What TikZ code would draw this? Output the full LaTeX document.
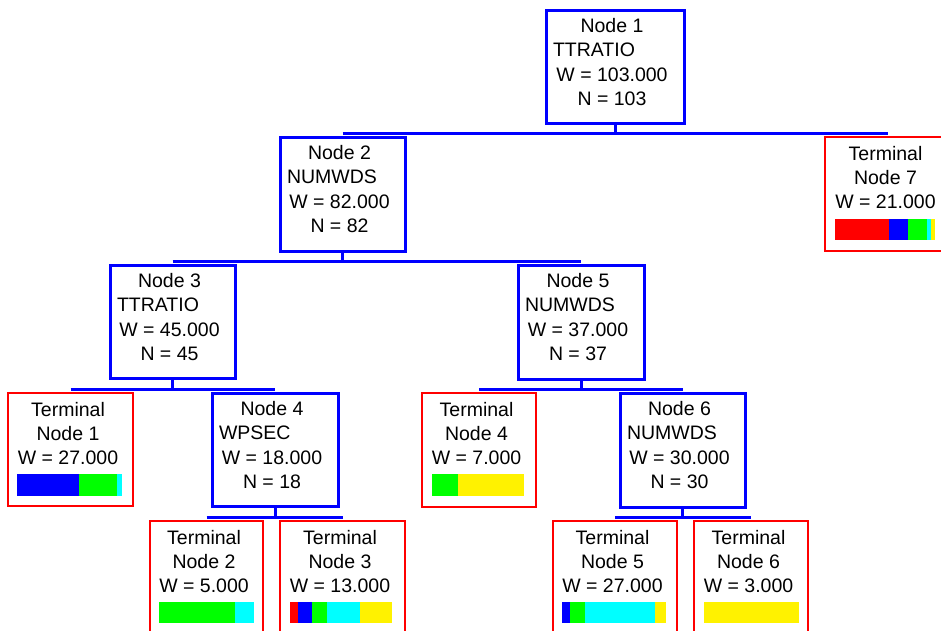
\documentclass[tikz,border=0pt]{standalone}
\usepackage{fontspec}
\setmainfont{Liberation Sans}
\definecolor{cblue}{RGB}{0,0,255}
\definecolor{cred}{RGB}{255,0,0}
\definecolor{cgreen}{RGB}{0,255,0}
\definecolor{ccyan}{RGB}{0,255,255}
\definecolor{cyellow}{RGB}{255,242,0}
\tikzset{
  nbox/.style={draw=cblue, line width=3pt, inner sep=0pt, outer sep=0pt},
  tbox/.style={draw=cred, line width=2pt, inner sep=0pt, outer sep=0pt},
  txt/.style={inner sep=0pt, outer sep=0pt, font=\fontsize{19.5}{23}\selectfont, text=black},
  conn/.style={draw=cblue, line width=3pt},
}
\newcommand\splitbox[9]{%
  \node[nbox, minimum width={#4-#2}, minimum height={#5-#3}] (#1) at ({(#2+#4)/2},{(#3+#5)/2}) {};
  \node[txt, anchor=base] (#1t) at ([xshift=-3pt,yshift=-22pt]#1.north) {#6};
  \node[txt, anchor=base west] (#1v) at ([xshift=7pt,yshift=-46.5pt]#1.north west) {#7};
  \node[txt, anchor=base] (#1w) at ([xshift=-3pt,yshift=-71pt]#1.north) {W = #8};
  \node[txt, anchor=base] (#1n) at ([xshift=-3pt,yshift=-95.5pt]#1.north) {N = #9};
  \coordinate (#1top) at ([yshift=3.5pt]#1.north);
}
\newcommand\termbox[7]{%
  \node[tbox, minimum width={#4-#2}, minimum height={#5-#3}] (#1) at ({(#2+#4)/2},{(#3+#5)/2}) {};
  \node[txt, anchor=base] (#1t) at ([xshift=-2.5pt,yshift=-23pt]#1.north) {Terminal};
  \node[txt, anchor=base] (#1n) at ([xshift=-2.5pt,yshift=-47.5pt]#1.north) {Node #6};
  \node[txt, anchor=base] (#1w) at ([xshift=-2.5pt,yshift=-71pt]#1.north) {W = #7};
  \coordinate (#1top) at ([yshift=3.5pt]#1.north);
}
\newcommand\seg[5]{\fill[#1] (#2,#4) rectangle (#3,#5);}
\newcommand\bus[3]{%
  \draw[conn] (#1.south) -- (#1.south |- #2top);
  \draw[conn] (#2top) -- (#3top);
}
\begin{document}
\begin{tikzpicture}[x=1pt,y=-1pt]
\useasboundingbox (0,0) rectangle (941,630);
% split nodes
\splitbox{n1}{546}{10}{684}{123}{Node 1}{TTRATIO}{103.000}{103}
\splitbox{n2}{280}{137}{405}{251}{Node 2}{NUMWDS}{82.000}{82}
\splitbox{n3}{110}{265}{235}{378}{Node 3}{TTRATIO}{45.000}{45}
\splitbox{n5}{518}{265}{644}{379}{Node 5}{NUMWDS}{37.000}{37}
\splitbox{n4}{212}{393}{338}{506}{Node 4}{WPSEC}{18.000}{18}
\splitbox{n6}{620}{393}{745}{507}{Node 6}{NUMWDS}{30.000}{30}
% terminal nodes
\termbox{t7}{825}{137}{951}{251}{7}{21.000}
\termbox{t1}{8}{393}{133}{506}{1}{27.000}
\termbox{t4}{422}{393}{536}{507}{4}{7.000}
\termbox{t2}{150}{521}{263}{645}{2}{5.000}
\termbox{t3}{280}{521}{405}{645}{3}{13.000}
\termbox{t5}{553}{521}{677}{645}{5}{27.000}
\termbox{t6}{694}{521}{808}{645}{6}{3.000}
% connectors
\bus{n1}{n2}{t7}
\bus{n2}{n3}{n5}
\bus{n3}{t1}{n4}
\bus{n4}{t2}{t3}
\bus{n5}{t4}{n6}
\bus{n6}{t5}{t6}
% bars
\seg{cred}{835}{889}{219}{240}
\seg{cblue}{889}{908}{219}{240}
\seg{cgreen}{908}{927}{219}{240}
\seg{ccyan}{927}{931}{219}{240}
\seg{cyellow}{931}{935}{219}{240}
\seg{cblue}{17}{79}{474}{496}
\seg{cgreen}{79}{117}{474}{496}
\seg{ccyan}{117}{122}{474}{496}
\seg{cgreen}{432}{458}{474}{496}
\seg{cyellow}{458}{524}{474}{496}
\seg{cgreen}{159}{235}{602}{623}
\seg{ccyan}{235}{254}{602}{623}
\seg{cred}{290}{298}{602}{623}
\seg{cblue}{298}{312}{602}{623}
\seg{cgreen}{312}{327}{602}{623}
\seg{ccyan}{327}{360}{602}{623}
\seg{cyellow}{360}{392}{602}{623}
\seg{cblue}{562}{570}{602}{623}
\seg{cgreen}{570}{585}{602}{623}
\seg{ccyan}{585}{655}{602}{623}
\seg{cyellow}{655}{666}{602}{623}
\seg{cyellow}{704}{799}{602}{623}
\end{tikzpicture}
\end{document}
